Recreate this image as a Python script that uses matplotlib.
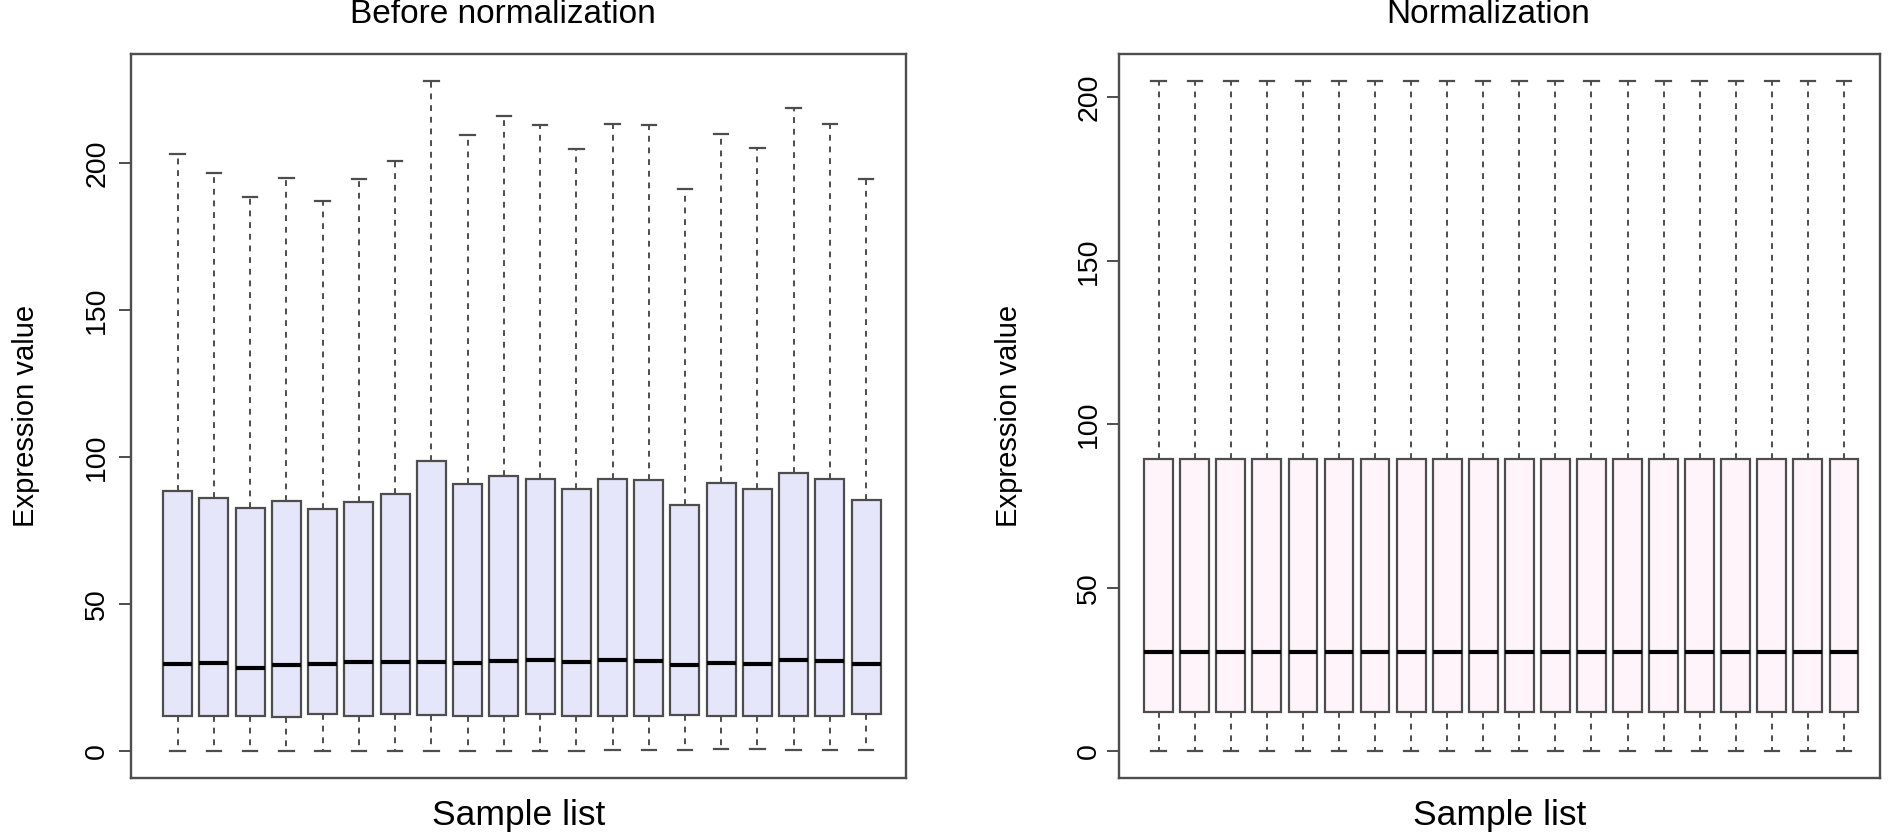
import matplotlib
matplotlib.use("Agg")
import matplotlib.pyplot as plt

plt.rcParams['font.family'] = ['Liberation Sans', 'DejaVu Sans']

# Box statistics (20 samples per panel)
samples = list(range(1, 21))

before_min = [0.2, 0.2, 0.2, 0.2, 0.2, 0.2, 0.2, 0.2, 0.2, 0.2,
              0.2, 0.2, 0.3, 0.3, 0.3, 0.8, 0.8, 0.5, 0.3, 0.4]
before_q1 = [12.1, 12.1, 12.1, 11.7, 12.5, 12.0, 12.5, 12.4, 12.1, 12.1,
             12.5, 12.1, 11.9, 11.9, 12.4, 12.0, 12.0, 12.0, 12.0, 12.6]
before_med = [29.7, 30.1, 28.4, 29.2, 29.6, 30.2, 30.4, 30.3, 29.9, 30.7,
              31.0, 30.3, 31.0, 30.6, 29.2, 30.0, 29.6, 31.0, 30.7, 29.6]
before_q3 = [88.4, 86.0, 82.6, 85.0, 82.3, 84.9, 87.6, 98.8, 90.9, 93.5,
             92.6, 89.2, 92.5, 92.4, 83.9, 91.2, 89.2, 94.8, 92.6, 85.4]
before_max = [203.1, 196.8, 188.6, 195.1, 187.1, 194.8, 200.8, 228.1, 209.6, 216.0,
              213.0, 205.0, 213.4, 212.9, 191.4, 210.1, 205.1, 218.7, 213.3, 194.6]

after_min = [0.2, 0.2, 0.2, 0.2, 0.2, 0.2, 0.2, 0.2, 0.2, 0.2,
             0.2, 0.2, 0.2, 0.2, 0.2, 0.2, 0.2, 0.2, 0.2, 0.2]
after_q1 = [12.1, 12.1, 12.1, 12.1, 12.1, 12.1, 12.1, 12.1, 12.1, 12.1,
            12.1, 12.1, 12.1, 12.1, 12.1, 12.1, 12.1, 12.1, 12.1, 12.1]
after_med = [30.2, 30.2, 30.2, 30.2, 30.2, 30.2, 30.2, 30.2, 30.2, 30.2,
             30.2, 30.2, 30.2, 30.2, 30.2, 30.2, 30.2, 30.2, 30.2, 30.2]
after_q3 = [89.4, 89.4, 89.4, 89.4, 89.4, 89.4, 89.4, 89.4, 89.4, 89.4,
            89.4, 89.4, 89.4, 89.4, 89.4, 89.4, 89.4, 89.4, 89.4, 89.4]
after_max = [205.1, 205.1, 205.1, 205.1, 205.1, 205.1, 205.1, 205.1, 205.1, 205.1,
             205.1, 205.1, 205.1, 205.1, 205.1, 205.1, 205.1, 205.1, 205.1, 205.1]

yticks = [0, 50, 100, 150, 200]


def make_stats(mins, q1, med, q3, maxs):
    return [dict(whislo=a, q1=b, med=c, q3=d, whishi=e, fliers=[])
            for a, b, c, d, e in zip(mins, q1, med, q3, maxs)]


def draw_panel(ax, stats, fill, title, ymax, xlim, title_x, tick_pad):
    edge = '#4d4d4d'
    ax.bxp(stats, positions=samples, widths=0.8, patch_artist=True,
           showfliers=False, capwidths=0.4,
           boxprops=dict(facecolor=fill, edgecolor=edge, linewidth=1.6),
           medianprops=dict(color='black', linewidth=3.0, solid_capstyle='butt'),
           whiskerprops=dict(color=edge, linewidth=1.4, linestyle=(0, (3, 3))),
           capprops=dict(color=edge, linewidth=1.6))
    pad = 0.04 * ymax
    ax.set_ylim(-pad, ymax + pad)
    ax.set_xlim(*xlim)
    ax.set_xticks([])
    ax.set_yticks(yticks)
    ax.set_yticklabels([str(t) for t in yticks], rotation=90, va='center')
    ax.tick_params(axis='y', length=9, width=1.4, color=edge, labelsize=20.5,
                   pad=tick_pad)
    for s in ax.spines.values():
        s.set_color(edge)
        s.set_linewidth(1.7)
    # title placed in axes coordinates above the frame
    ax.text(title_x, 1.055, title, fontsize=24, ha='center', va='center',
            transform=ax.transAxes)
    ax.set_xlabel('Sample list', fontsize=25.5, va='center')
    ax.xaxis.set_label_coords(0.5, -0.052)
    ax.set_ylabel('Expression value', fontsize=21, va='center')


fig = plt.figure(figsize=(18.9, 8.33), dpi=100)
ax1 = fig.add_axes([131 / 1890, 55 / 833, 775 / 1890, 724 / 833])
ax2 = fig.add_axes([1119 / 1890, 55 / 833, 761 / 1890, 724 / 833])

draw_panel(ax1, make_stats(before_min, before_q1, before_med, before_q3, before_max),
           '#e6e6fa', 'Before normalization', max(before_max), (-0.29, 21.1), 0.48, 6)
ax1.yaxis.set_label_coords(-0.136, 0.5)
draw_panel(ax2, make_stats(after_min, after_q1, after_med, after_q3, after_max),
           '#fff4fa', 'Normalization', max(after_max), (-0.1, 21.0), 0.485, 3)
ax2.yaxis.set_label_coords(-0.145, 0.5)

fig.savefig('out.png', dpi=100)
